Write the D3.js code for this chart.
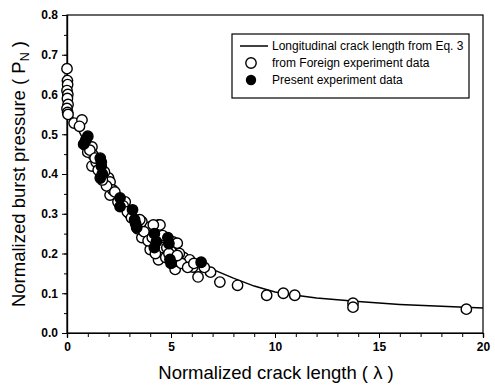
<!DOCTYPE html>
<html><head><meta charset="utf-8">
<script src="https://cdn.jsdelivr.net/npm/d3@7"></script>
<style>
html,body{margin:0;padding:0;background:#fff;}
text{font-family:"Liberation Sans",Arial,sans-serif;fill:#000;}
</style></head>
<body><svg id="c" width="495" height="389"></svg>
<script>
// ---- data ----
const curveLambda = [0, 0.25, 0.5, 1, 1.5, 2, 2.5, 3, 4, 5, 6, 7, 8, 9, 10, 11, 12, 14, 16, 18, 20];
const curvePn     = [0.58, 0.545, 0.515, 0.465, 0.42, 0.38, 0.345, 0.315, 0.265, 0.22, 0.188, 0.16, 0.138, 0.118, 0.103, 0.095, 0.088, 0.079, 0.072, 0.067, 0.063];

const foreignLambda = [0,0.02,0.03,0,0.04,0.02,0.05,0,0.03,0.05, 0.34,0.72,0.87,1.2,1.25,1.2,2.0,2.07,2.07,2.2,3.6,4.0,4.4,3.85,3.6,4.5,5.1,4.47,5.3,4.4,5.6,5.75,6.25,6.3,6.9,7.35,8.2,9.6,6.05,4.3,4.15,5.9,10.4,10.95,13.75,13.75,19.2,5.4,5.0,4.6,3.0,2.8,1.4,1.0,5.2,4.0,
  1.1,1.35,1.5,1.8,1.9,2.3,2.45,2.7,2.9,3.1,3.4,3.7,3.9,4.1,4.25,4.6,4.75,4.8,5.2,5.5,5.8,6.1,6.6,3.5,4.9,5.3,0.6,1.7];
const foreignPn     = [0.665,0.635,0.625,0.61,0.6,0.59,0.575,0.565,0.555,0.55, 0.528,0.536,0.473,0.468,0.448,0.42,0.39,0.38,0.347,0.36,0.28,0.267,0.272,0.247,0.24,0.229,0.229,0.272,0.226,0.184,0.19,0.171,0.164,0.141,0.153,0.128,0.12,0.095,0.166,0.226,0.272,0.184,0.1,0.095,0.075,0.065,0.06,0.2,0.205,0.215,0.3,0.33,0.43,0.455,0.16,0.21,
  0.46,0.44,0.41,0.405,0.37,0.355,0.33,0.32,0.305,0.29,0.262,0.255,0.232,0.24,0.2,0.245,0.19,0.215,0.18,0.175,0.165,0.175,0.165,0.285,0.2,0.195,0.52,0.385];

const presentLambda = [0.8,1.0,0.9,1.6,1.65,1.7,1.6,2.55,2.55,3.15,3.25,3.35,4.2,4.3,4.85,4.9,4.95,5.0,6.45,4.2,3.3,1.65];
const presentPn     = [0.475,0.495,0.485,0.44,0.42,0.40,0.39,0.34,0.318,0.31,0.285,0.265,0.25,0.23,0.24,0.225,0.185,0.175,0.178,0.215,0.275,0.43];

const xTicks = [0,5,10,15,20];
const yTicks = [0.0,0.1,0.2,0.3,0.4,0.5,0.6,0.7,0.8];
const legendLabels = ["Longitudinal crack length from Eq. 3","from Foreign experiment data","Present experiment data"];

// ---- layout ----
const svg = d3.select("#c");
const L=67, R=483, T=15, B=333;
const x = d3.scaleLinear().domain([0,20]).range([L,R]);
const y = d3.scaleLinear().domain([0,0.8]).range([B,T]);

// frame
svg.append("rect").attr("x",L).attr("y",T).attr("width",R-L).attr("height",B-T)
  .attr("fill","none").attr("stroke","#000").attr("stroke-width",1.2);

// axes
const xMinor = d3.range(0,21,1);
const yMinor = d3.range(0,0.801,0.05);
const gx = svg.append("g").attr("transform",`translate(0,${B})`)
  .call(d3.axisBottom(x).tickValues(xMinor).tickSize(4).tickFormat(""));
const gx2 = svg.append("g").attr("transform",`translate(0,${B})`)
  .call(d3.axisBottom(x).tickValues(xTicks).tickSize(5).tickPadding(4).tickFormat(d3.format("d")));
const gy = svg.append("g").attr("transform",`translate(${L},0)`)
  .call(d3.axisLeft(y).tickValues(yMinor).tickSize(3).tickFormat(""));
const gy2 = svg.append("g").attr("transform",`translate(${L},0)`)
  .call(d3.axisLeft(y).tickValues(yTicks).tickSize(5).tickPadding(4).tickFormat(d3.format(".1f")));
[gx,gx2,gy,gy2].forEach(g=>{
  g.select(".domain").attr("stroke","#000").attr("stroke-width",1.2);
  g.selectAll(".tick line").attr("stroke","#000").attr("stroke-width",1);
  g.selectAll("text").style("font-family","'Liberation Sans',Arial,sans-serif").style("font-size","12px").style("font-weight","bold").attr("fill","#000");
});

// axis titles
svg.append("text").attr("x",(L+R)/2+1).attr("y",379).attr("text-anchor","middle")
  .style("font-size","18.5px").text("Normalized crack length ( λ )");
const yl = svg.append("text").attr("transform","translate(25,174) rotate(-90)").attr("text-anchor","middle")
  .style("font-size","18.5px");
yl.append("tspan").text("Normalized burst pressure ( P");
yl.append("tspan").attr("dy",4).style("font-size","12.5px").text("N");
yl.append("tspan").attr("dy",-4).text(" )");

// data marks
const line = d3.line().x((d,i)=>x(curveLambda[i])).y(d=>y(d));
svg.append("path").datum(curvePn).attr("d",line).attr("fill","none").attr("stroke","#000").attr("stroke-width",1.5);

svg.append("g").selectAll("circle").data(foreignPn).join("circle")
  .attr("cx",(d,i)=>x(foreignLambda[i])).attr("cy",d=>y(d)).attr("r",5.2)
  .attr("fill","#fff").attr("stroke","#000").attr("stroke-width",1.4);
svg.append("g").selectAll("circle").data(presentPn).join("circle")
  .attr("cx",(d,i)=>x(presentLambda[i])).attr("cy",d=>y(d)).attr("r",5.2)
  .attr("fill","#000").attr("stroke","#000").attr("stroke-width",1.4);

// legend
const lg = svg.append("g");
lg.append("rect").attr("x",232).attr("y",34).attr("width",237).attr("height",64)
  .attr("fill","#fff").attr("stroke","#000").attr("stroke-width",1.2);
const ly = [46,63,80];
lg.append("line").attr("x1",240).attr("x2",268).attr("y1",ly[0]).attr("y2",ly[0]).attr("stroke","#000").attr("stroke-width",1.5);
lg.append("circle").attr("cx",251).attr("cy",ly[1]).attr("r",5.2).attr("fill","#fff").attr("stroke","#000").attr("stroke-width",1.4);
lg.append("circle").attr("cx",251).attr("cy",ly[2]).attr("r",5.2).attr("fill","#000");
legendLabels.forEach((t,i)=>{
  lg.append("text").attr("x",272).attr("y",ly[i]+4).style("font-size","12px").text(t);
});
</script></body></html>
